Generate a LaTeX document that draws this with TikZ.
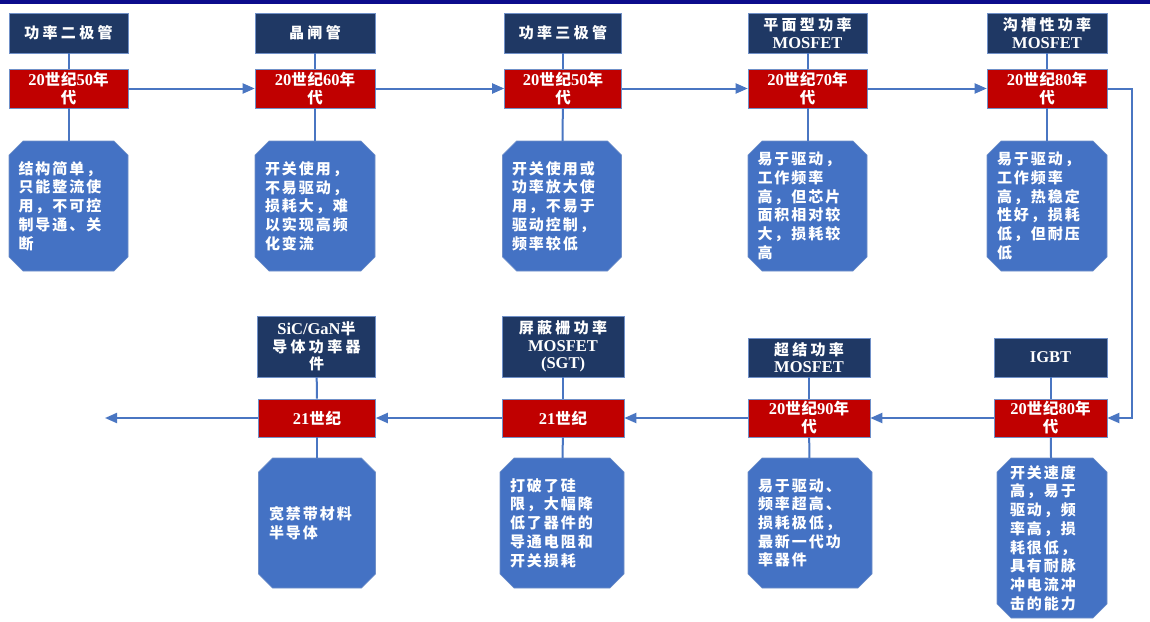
\documentclass[tikz,border=0pt]{standalone}
\usepackage{fontspec}
\setmainfont{Liberation Serif}
\newfontfamily\cjk{Noto Sans CJK SC}[LetterSpace=13]
\newfontfamily\cjkt{Noto Sans CJK SC}[LetterSpace=22]
\newfontfamily\cjkr{Noto Sans CJK SC}[LetterSpace=6]
\newfontfamily\latf{Liberation Serif}
\usetikzlibrary{arrows.meta}
\definecolor{navy}{HTML}{1F3864}
\definecolor{dred}{HTML}{C00000}
\definecolor{mblue}{HTML}{4472C4}
\definecolor{lineblue}{HTML}{4A76C2}
\definecolor{topbar}{HTML}{0C0C8C}
\definecolor{bord}{HTML}{7090C8}
\newcommand\latx[1]{{\latf\bfseries\fontsize{16.5}{18}\selectfont #1}}
\tikzset{
  ttl/.style={fill=navy, draw=bord, line width=0.6pt, text=white, inner sep=0pt, align=center,
    font=\cjkt\bfseries\fontsize{15}{17.5}\selectfont},
  yr/.style={fill=dred, draw=bord, line width=0.6pt, text=white, inner sep=0pt, align=center,
    font=\cjkr\bfseries\fontsize{15.5}{18}\selectfont},
  desc/.style={rectangle, text=white, inner sep=0pt, align=left,
    font=\cjk\bfseries\fontsize{15}{18.7}\selectfont},
  descfill/.style={fill=mblue, draw=bord, line width=0.6pt},
  conn/.style={draw=lineblue, line width=2pt},
  arr/.style={conn, -{Triangle[length=12pt,width=10pt]}}
}
% #1 name, #2 x, #3 y, #4 width, #5 height, #6 text width, #7 text
\newcommand\descbox[7]{%
  \path[descfill] ({#2-#4/2+14},{#3-#5/2}) -- ({#2+#4/2-14},{#3-#5/2}) -- ({#2+#4/2},{#3-#5/2+14})
    -- ({#2+#4/2},{#3+#5/2-14}) -- ({#2+#4/2-14},{#3+#5/2}) -- ({#2-#4/2+14},{#3+#5/2})
    -- ({#2-#4/2},{#3+#5/2-14}) -- ({#2-#4/2},{#3-#5/2+14}) -- cycle;
  \node[desc, minimum width=#4pt, minimum height=#5pt, text width=#6pt] (#1) at (#2,#3) {#7};
}
\begin{document}
\begin{tikzpicture}[x=1pt,y=-1pt]
\useasboundingbox (0,0) rectangle (1150,621);
\fill[topbar] (0,0) rectangle (1150,4);
% top row
\node[ttl, minimum width=119pt, minimum height=40pt] (t1) at (68.5,33) {功率二极管};
\node[yr, minimum width=119pt, minimum height=39pt] (r1) at (68.5,88.5) {\latx{20}世纪\latx{50}年\\代};
\descbox{b1}{68.5}{206}{119}{130}{100}{结构简单，\\只能整流使\\用，不可控\\制导通、关\\断}

\node[ttl, minimum width=120pt, minimum height=40pt] (t2) at (315,33) {晶闸管};
\node[yr, minimum width=120pt, minimum height=39pt] (r2) at (315,88.5) {\latx{20}世纪\latx{60}年\\代};
\descbox{b2}{315}{206}{120}{130}{100}{开关使用，\\不易驱动，\\损耗大，难\\以实现高频\\化变流}

\node[ttl, minimum width=117pt, minimum height=40pt] (t3) at (563,33) {功率三极管};
\node[yr, minimum width=117pt, minimum height=39pt] (r3) at (563,88.5) {\latx{20}世纪\latx{50}年\\代};
\descbox{b3}{562}{206}{119}{130}{100}{开关使用或\\功率放大使\\用，不易于\\驱动控制，\\频率较低}

\node[ttl, minimum width=119pt, minimum height=40pt] (t4) at (807.5,33) {平面型功率\\\latx{MOSFET}};
\node[yr, minimum width=119pt, minimum height=39pt] (r4) at (807.5,88.5) {\latx{20}世纪\latx{70}年\\代};
\descbox{b4}{807.5}{206}{119}{130}{100}{易于驱动，\\工作频率\\高，但芯片\\面积相对较\\大，损耗较\\高}

\node[ttl, minimum width=120pt, minimum height=40pt] (t5) at (1047,33) {沟槽性功率\\\latx{MOSFET}};
\node[yr, minimum width=120pt, minimum height=39pt] (r5) at (1047,88.5) {\latx{20}世纪\latx{80}年\\代};
\descbox{b5}{1047}{206}{120}{130}{100}{易于驱动，\\工作频率\\高，热稳定\\性好，损耗\\低，但耐压\\低}

% bottom row
\node[ttl, minimum width=113pt, minimum height=39pt] (t10) at (1050.5,357.5) {\latx{IGBT}};
\node[yr, minimum width=113pt, minimum height=38pt] (r10) at (1050.5,418) {\latx{20}世纪\latx{80}年\\代};
\descbox{b10}{1052}{538}{110}{160}{84}{开关速度\\高，易于\\驱动，频\\率高，损\\耗很低，\\具有耐脉\\冲电流冲\\击的能力}

\node[ttl, minimum width=122pt, minimum height=39pt] (t9) at (809,357.5) {超结功率\\\latx{MOSFET}};
\node[yr, minimum width=122pt, minimum height=38pt] (r9) at (809,418) {\latx{20}世纪\latx{90}年\\代};
\descbox{b9}{810}{523}{124}{130}{104}{易于驱动、\\频率超高、\\损耗极低，\\最新一代功\\率器件}

\node[ttl, minimum width=122pt, minimum height=61pt] (t8) at (563,346.5) {屏蔽栅功率\\\latx{MOSFET}\\\latx{(SGT)}};
\node[yr, minimum width=122pt, minimum height=38pt] (r8) at (563,418) {\latx{21}世纪};
\descbox{b8}{562}{523}{124}{130}{104}{打破了硅\\限，大幅降\\低了器件的\\导通电阻和\\开关损耗}

\node[ttl, minimum width=118pt, minimum height=61pt] (t7) at (316.5,346.5) {\latx{SiC/GaN}半\\导体功率器\\件};
\node[yr, minimum width=117pt, minimum height=38pt] (r7) at (317,418) {\latx{21}世纪};
\descbox{b7}{317}{523}{117}{130}{96}{宽禁带材料\\半导体}

\coordinate (endL) at (105,418);

% vertical connectors
\foreach \i in {1,2,3,4,5,7,8,9,10}{
  \draw[conn] (t\i) -- (r\i);
  \draw[conn] (r\i) -- (b\i);
}
% timeline arrows
\draw[arr] (r1) -- (r2);
\draw[arr] (r2) -- (r3);
\draw[arr] (r3) -- (r4);
\draw[arr] (r4) -- (r5);
\draw[arr] (r5.east) -- ++(25,0) |- (r10.east);
\draw[arr] (r10) -- (r9);
\draw[arr] (r9) -- (r8);
\draw[arr] (r8) -- (r7);
\draw[arr] (r7) -- (endL);
\end{tikzpicture}
\end{document}
